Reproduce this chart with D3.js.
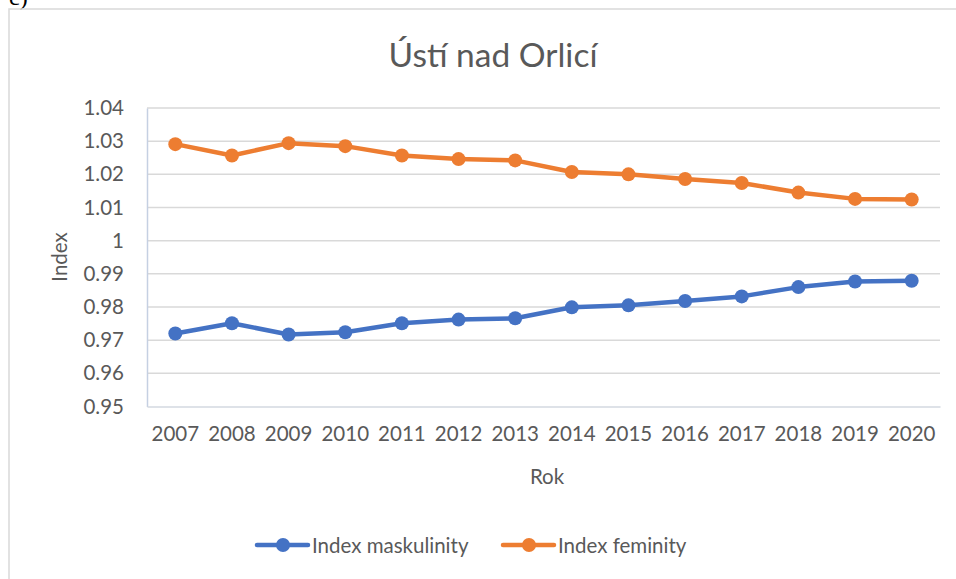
<!DOCTYPE html>
<html>
<head>
<meta charset="utf-8">
<script src="https://cdn.jsdelivr.net/npm/d3@7"></script>
<style>
  body { margin: 0; background: #fff; }
  svg { display: block; }
</style>
</head>
<body>
<svg id="chart"></svg>
<script>
// data
var years = ['2007', '2008', '2009', '2010', '2011', '2012', '2013', '2014', '2015', '2016', '2017', '2018', '2019', '2020'];
var maskulinity = [0.9720, 0.9751, 0.9717, 0.9724, 0.9751, 0.9762, 0.9766, 0.9799, 0.9805, 0.9818, 0.9832, 0.9860, 0.9877, 0.9879];
var feminity = [1.0291, 1.0257, 1.0294, 1.0285, 1.0257, 1.0246, 1.0242, 1.0207, 1.0200, 1.0186, 1.0174, 1.0145, 1.0126, 1.0124];
var yTicks = [0.95, 0.96, 0.97, 0.98, 0.99, 1, 1.01, 1.02, 1.03, 1.04];
var seriesNames = ['Index maskulinity', 'Index feminity'];

var W = 956, H = 579;
var margin = {top: 108, right: 16, bottom: 172, left: 147};
var width = 940 - margin.left,
    height = 406.5 - margin.top;

var font = 'Lato, "Open Sans", sans-serif';
var textColor = '#595959';
var colors = ['#4472C4', '#ED7D31'];

var svg = d3.select('#chart').attr('width', W).attr('height', H);

// the cut off "c)" from the page above
svg.append('text')
    .attr('x', 9).attr('y', 5)
    .attr('font-family', '"Liberation Serif", serif')
    .attr('font-size', 24)
    .attr('fill', '#000')
    .text('c)');

// chart frame (runs off the right and bottom edges)
svg.append('rect')
    .attr('x', 9).attr('y', 9)
    .attr('width', 990).attr('height', 620)
    .attr('fill', 'none')
    .attr('stroke', '#D9D9D9')
    .attr('stroke-width', 1.5);

svg.append('text')
    .attr('x', 493).attr('y', 67)
    .attr('text-anchor', 'middle')
    .attr('font-family', font)
    .attr('font-size', 33.5)
    .attr('fill', textColor)
    .text('Ústí nad Orlicí');

var g = svg.append('g')
    .attr('transform', 'translate(' + margin.left + ',' + margin.top + ')');

var x = d3.scaleBand().domain(years).range([0, width]);
var y = d3.scaleLinear().domain([0.95, 1.04]).range([height, 0]);

// gridlines
g.append('g')
    .selectAll('line')
    .data(yTicks.slice(1))
    .enter().append('line')
    .attr('x1', 0).attr('x2', width)
    .attr('y1', function(d) { return y(d); })
    .attr('y2', function(d) { return y(d); })
    .attr('stroke', '#D9D9D9')
    .attr('stroke-width', 1.5);

// y axis
var yAxis = g.append('g')
    .call(d3.axisLeft(y).tickValues(yTicks).tickSize(0).tickPadding(23)
        .tickFormat(function(d) { return d3.format('')(+d.toFixed(2)); }));
yAxis.select('.domain').attr('stroke', '#C5D0E2').attr('stroke-width', 1.5);
yAxis.selectAll('text')
    .attr('font-family', font).attr('font-size', 20.5).attr('fill', textColor);

// x axis
var xAxis = g.append('g')
    .attr('transform', 'translate(0,' + height + ')')
    .call(d3.axisBottom(x).tickSize(0).tickPadding(20));
xAxis.select('.domain').attr('stroke', '#D3D8E0').attr('stroke-width', 1.5);
xAxis.selectAll('text')
    .attr('font-family', font).attr('font-size', 20.5).attr('fill', textColor);

// axis titles
svg.append('text')
    .attr('x', 547).attr('y', 484)
    .attr('text-anchor', 'middle')
    .attr('font-family', font).attr('font-size', 20.5).attr('fill', textColor)
    .text('Rok');

svg.append('text')
    .attr('transform', 'translate(67,257) rotate(-90)')
    .attr('text-anchor', 'middle')
    .attr('font-family', font).attr('font-size', 20.5).attr('fill', textColor)
    .text('Index');

// series
var series = [maskulinity, feminity];
var line = d3.line()
    .x(function(d, i) { return x(years[i]) + x.bandwidth() / 2; })
    .y(function(d) { return y(d); });

series.forEach(function(values, k) {
  g.append('path')
      .datum(values)
      .attr('fill', 'none')
      .attr('stroke', colors[k])
      .attr('stroke-width', 4.5)
      .attr('stroke-linejoin', 'round')
      .attr('stroke-linecap', 'round')
      .attr('d', line);

  g.selectAll('.dot' + k)
      .data(values)
    .enter().append('circle')
      .attr('class', 'dot' + k)
      .attr('cx', function(d, i) { return x(years[i]) + x.bandwidth() / 2; })
      .attr('cy', function(d) { return y(d); })
      .attr('r', 7)
      .attr('fill', colors[k]);
});

// legend
var legendX = [257, 503];
var legend = svg.selectAll('.legend')
    .data(seriesNames)
  .enter().append('g')
    .attr('class', 'legend')
    .attr('transform', function(d, i) { return 'translate(' + legendX[i] + ',545)'; });

legend.append('line')
    .attr('x1', 0).attr('x2', 51)
    .attr('stroke', function(d, i) { return colors[i]; })
    .attr('stroke-width', 4.5)
    .attr('stroke-linecap', 'round');
legend.append('circle')
    .attr('cx', 26).attr('r', 7)
    .attr('fill', function(d, i) { return colors[i]; });
legend.append('text')
    .attr('x', 55).attr('y', 7.5)
    .attr('font-family', font).attr('font-size', 20.5).attr('fill', textColor)
    .text(function(d) { return d; });
</script>
</body>
</html>
